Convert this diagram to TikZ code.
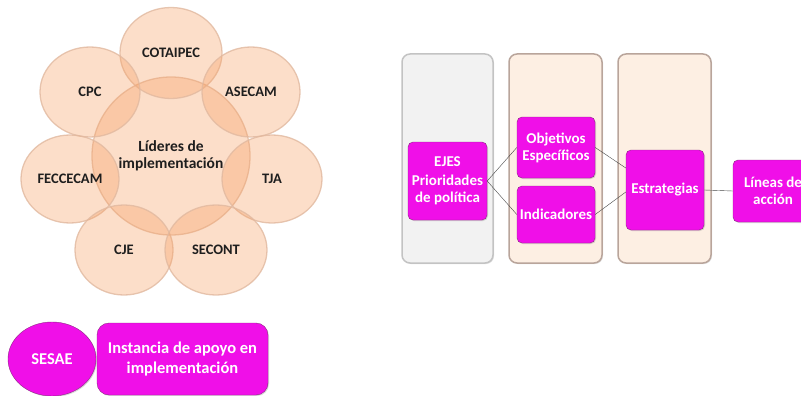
\documentclass[tikz,border=0pt]{standalone}
\usepackage{fontspec}
\setmainfont{Carlito}[BoldFont={Carlito Bold}]
\usetikzlibrary{shapes.geometric,shadows}
\definecolor{peach}{RGB}{247,160,100}
\definecolor{peachline}{RGB}{225,185,160}
\definecolor{pinkbox}{RGB}{240,15,232}
\definecolor{pinkline}{RGB}{140,40,130}
\definecolor{colgray}{RGB}{242,242,242}
\definecolor{colcream}{RGB}{253,239,227}
\definecolor{txtdark}{RGB}{30,30,30}
\begin{document}
\begin{tikzpicture}[x=1pt, y=-1pt,
		c/.style={ellipse, draw=peachline, line width=1.3pt, fill=peach, fill opacity=0.35, draw opacity=0.8, text opacity=1, text=txtdark, font=\bfseries\fontsize{14.5}{17}\selectfont, inner sep=0pt, align=center},
		col/.style={rectangle, rounded corners=8pt, line width=1.5pt, inner sep=0pt, drop shadow={opacity=0.25, shadow xshift=1pt, shadow yshift=-1pt}},
		b/.style={rectangle, rounded corners=5pt, draw=pinkline, thin, fill=pinkbox, text=white, font=\bfseries\fontsize{15}{17}\selectfont, inner sep=0pt, align=center, drop shadow={opacity=0.3, shadow xshift=1pt, shadow yshift=-1pt}},
		big/.style={font=\bfseries\fontsize{16.5}{20}\selectfont},
		l/.style={thin, draw={rgb,255:red,70;green,70;blue,70}},
		]
		\clip (0,0) rectangle (801,396);
		
		%Circles
		\node[c, minimum width=158, minimum height=158, font=\bfseries\fontsize{15.5}{16.5}\selectfont] (lid) at (171,156) {L\'ideres de\\implementaci\'on};
		\node[c, minimum width=102, minimum height=91]  (cota) at (171,53)  {COTAIPEC};
		\node[c, minimum width=98,  minimum height=90]  (asec) at (251,92)  {ASECAM};
		\node[c, minimum width=100, minimum height=90]  (cpc)  at (90,92)   {CPC};
		\node[c, minimum width=98,  minimum height=88]  (fecc) at (70,179)  {FECCECAM};
		\node[c, minimum width=100, minimum height=88]  (tja)  at (272,179) {TJA};
		\node[c, minimum width=98,  minimum height=90]  (cje)  at (124,250) {CJE};
		\node[c, minimum width=102, minimum height=90]  (seco) at (216,250) {SECONT};
		
		%Columns
		\node[col, draw={rgb,255:red,195;green,195;blue,195}, fill=colgray,  minimum width=91, minimum height=209] (col1) at (447.5,158.5) {};
		\node[col, draw={rgb,255:red,185;green,165;blue,155}, fill=colcream, minimum width=93, minimum height=209] (col2) at (555.5,158.5) {};
		\node[col, draw={rgb,255:red,185;green,165;blue,155}, fill=colcream, minimum width=93, minimum height=209] (col3) at (664.5,158.5) {};
		
		%Boxes
		\node[b, minimum width=79, minimum height=78] (ejes) at (447.5,181)  {EJES\\[2pt]Prioridades\\de pol\'itica};
		\node[b, minimum width=78, minimum height=61] (obj)  at (556,147.5)  {Objetivos\\Espec\'ificos};
		\node[b, minimum width=78, minimum height=57] (ind)  at (556,214.5)  {Indicadores};
		\node[b, minimum width=78, minimum height=80] (estr) at (665,190)    {Estrategias};
		\node[b, minimum width=80, minimum height=62] (lin)  at (773,191)    {L\'ineas de\\acci\'on};
		
		\draw[l] (ejes.east) -- (obj.west);
		\draw[l] (ejes.east) -- (ind.west);
		\draw[l] (obj.east)  -- ([yshift=22pt]estr.west);
		\draw[l] (ind.east)  -- ([yshift=-2pt]estr.west);
		\draw[l] (estr.east) -- (lin.west);
		
		%Support
		\node[b, big, ellipse, minimum width=88, minimum height=74] (sesae) at (52,359) {SESAE};
		\node[b, big, rounded corners=12pt, minimum width=171, minimum height=72] (inst) at (182.5,359) {Instancia de apoyo en\\implementaci\'on};
	\end{tikzpicture}
\end{document}
